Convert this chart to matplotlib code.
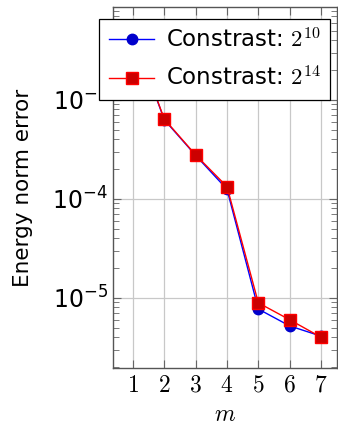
import matplotlib.pyplot as plt
import numpy as np
from matplotlib.ticker import LogLocator, NullFormatter, LogFormatterMathtext

plt.rcParams['mathtext.fontset'] = 'cm'
plt.rcParams['font.family'] = ['DejaVu Sans']

m = [1, 2, 3, 4, 5, 6, 7]
err_c10 = [4.6e-3, 6.3e-4, 2.75e-4, 1.25e-4, 7.7e-6, 5.2e-6, 4.1e-6]
err_c14 = [4.6e-3, 6.4e-4, 2.78e-4, 1.33e-4, 8.9e-6, 6.0e-6, 4.0e-6]

fig = plt.figure(figsize=(3.38, 4.30), dpi=100)
ax = fig.add_axes([0.334, 0.144, 0.664, 0.840])

ax.plot(m, err_c10, color='blue', lw=1.0, marker='o', ms=7.5,
        mfc=(0, 0, 0.8), mec=(0, 0, 0.8), label=r'Constrast: $2^{10}$', zorder=3)
ax.plot(m, err_c14, color='red', lw=1.0, marker='s', ms=8.5,
        mfc=(0.8, 0, 0), mec='red', label=r'Constrast: $2^{14}$', zorder=4)

ax.set_yscale('log')
ax.set_xlim(0.36, 7.52)
ax.set_ylim(10**-5.71, 10**-2.06)
ax.set_xticks(m)
ax.set_xticklabels([f'${v}$' for v in m])
ax.yaxis.set_major_locator(LogLocator(base=10, numticks=10))
ax.yaxis.set_major_formatter(LogFormatterMathtext())
ax.yaxis.set_minor_locator(LogLocator(base=10, subs=np.arange(2, 10), numticks=10))
ax.yaxis.set_minor_formatter(NullFormatter())

ax.grid(True, which='major', color='#c8c8c8', lw=0.9)
ax.tick_params(which='both', direction='in', top=True, right=True,
               color='#666666', labelsize=17)
ax.tick_params(which='major', length=6, width=0.8)
ax.tick_params(which='minor', length=4, width=0.6)
for s in ax.spines.values():
    s.set_color('#555555')
    s.set_linewidth(1.0)

ax.set_xlabel(r'$m$', fontsize=17, labelpad=4)
ax.set_ylabel('Energy norm error', fontsize=15.5, labelpad=14)

leg = ax.legend(loc='upper left', bbox_to_anchor=(-0.06, 0.967), fontsize=16.5,
                frameon=True, fancybox=False, framealpha=1, edgecolor='black',
                handlelength=2.0, borderpad=0.4, labelspacing=0.62,
                handletextpad=0.5, borderaxespad=0)
leg.get_frame().set_linewidth(0.9)
leg.set_zorder(10)

plt.savefig('out.png', dpi=100)
